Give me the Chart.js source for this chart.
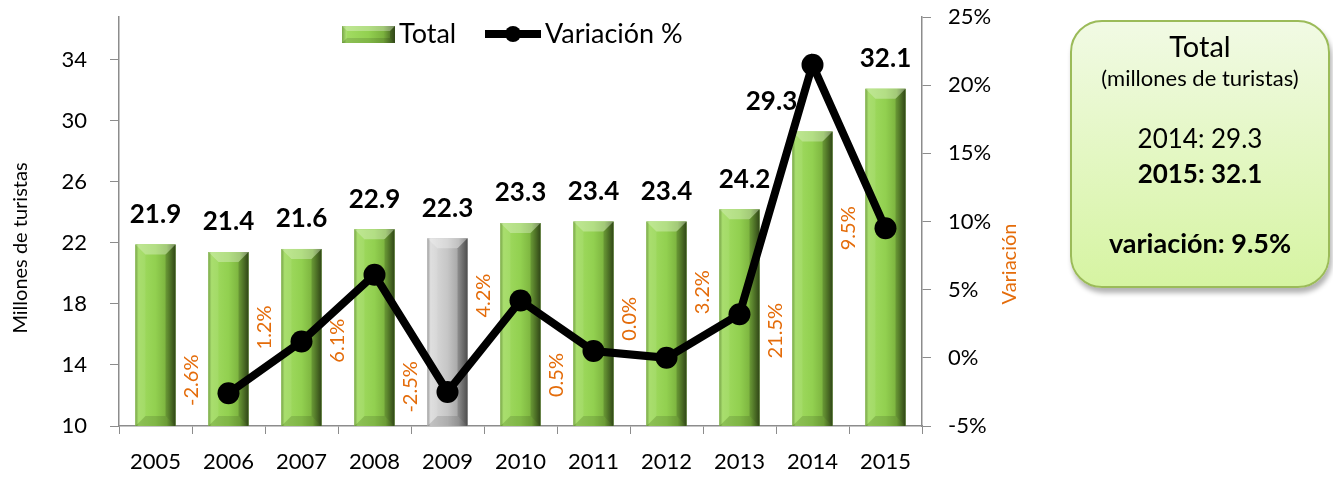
<!DOCTYPE html>
<html>
<head>
<meta charset="utf-8">
<script src="https://cdn.jsdelivr.net/npm/chart.js@4.4.1/dist/chart.umd.min.js"></script>
<style>
body { margin: 0; background: #fff; font-family: Lato, sans-serif; }
#wrap { position: relative; width: 1333px; height: 481px; }
#box {
    position: absolute; left: 1070px; top: 20px; width: 256px; height: 264px;
    border: 2px solid #9BBB59; border-radius: 32px;
    background: linear-gradient(#F1FAE4, #D6F4A2);
    box-shadow: 2px 5px 5px rgba(0,0,0,0.3);
    color: #000; text-align: center;
}
#box div { position: absolute; left: 0; width: 100%; line-height: 32px; white-space: nowrap; }
</style>
</head>
<body>
<div id="wrap">
    <canvas id="chart" width="1333" height="481"></canvas>
    <div id="box">
        <div style="top:8px;font-size:29px;">Total</div>
        <div style="top:40px;font-size:22px;">(millones de turistas)</div>
        <div style="top:100px;font-size:26px;">2014: 29.3</div>
        <div style="top:135px;font-size:26px;font-weight:bold;">2015: 32.1</div>
        <div style="top:205px;font-size:27px;font-weight:bold;">variación: 9.5%</div>
    </div>
</div>
<script>
var years = ['2005', '2006', '2007', '2008', '2009', '2010', '2011', '2012', '2013', '2014', '2015'];
var totals = [21.9, 21.4, 21.6, 22.9, 22.3, 23.3, 23.4, 23.4, 24.2, 29.3, 32.1];
var variation = [null, -2.6, 1.2, 6.1, -2.5, 4.2, 0.5, 0.0, 3.2, 21.5, 9.5];
var leftTicks = [10, 14, 18, 22, 26, 30, 34];
var rightTicks = [-5, 0, 5, 10, 15, 20, 25];
var greyYear = '2009';

var ORANGE = '#E46C0A';
var FONT = 'Lato, sans-serif';
var green = { face: '#92D050', light: '#A2DC62', shade: '#7BB23E', dark: '#3B561C', edge: '#6E9E3A' };
var grey = { face: '#C6C6C6', light: '#DDDDDD', shade: '#A6A6A6', dark: '#5E5E5E', edge: '#969696' };

// hand-placed label nudges (pixels), like the original
var barLabelDx = [0, 0, 0, 0, 0, 0, 0, 0, 5, -41, 0];
var pctLabelDy = [0, -13, -14, 66, -5, -5, 24, -39, -22, 266, 0];

function drawBevel(ctx, L, T, R, B, pal, b) {
    var g = ctx.createLinearGradient(L, 0, R, 0);
    g.addColorStop(0, pal.edge);
    g.addColorStop(0.08, pal.light);
    g.addColorStop(0.5, pal.face);
    g.addColorStop(0.78, pal.shade);
    g.addColorStop(1, pal.dark);
    ctx.fillStyle = g;
    ctx.fillRect(L, T, R - L, B - T);
    if (B - T < 2 * b) return;
    // top bevel
    ctx.fillStyle = 'rgba(255,255,255,0.3)';
    ctx.beginPath();
    ctx.moveTo(L, T); ctx.lineTo(R, T); ctx.lineTo(R - b, T + b); ctx.lineTo(L + b, T + b);
    ctx.closePath(); ctx.fill();
    // right bevel
    ctx.fillStyle = 'rgba(0,0,0,0.18)';
    ctx.beginPath();
    ctx.moveTo(R, T); ctx.lineTo(R, B); ctx.lineTo(R - b, B - b); ctx.lineTo(R - b, T + b);
    ctx.closePath(); ctx.fill();
    // bottom bevel
    ctx.fillStyle = 'rgba(0,0,0,0.12)';
    ctx.beginPath();
    ctx.moveTo(L, B); ctx.lineTo(R, B); ctx.lineTo(R - b, B - b); ctx.lineTo(L + b, B - b);
    ctx.closePath(); ctx.fill();
    // left bevel
    ctx.fillStyle = 'rgba(255,255,255,0.08)';
    ctx.beginPath();
    ctx.moveTo(L, T); ctx.lineTo(L + b, T + b); ctx.lineTo(L + b, B - b); ctx.lineTo(L, B);
    ctx.closePath(); ctx.fill();
}

var decor = {
    id: 'decor',
    afterDatasetDraw: function(chart, args) {
        if (args.index !== 0) return;
        var ctx = chart.ctx;
        var bottom = chart.chartArea.bottom;
        ctx.save();
        args.meta.data.forEach(function(el, i) {
            var pal = years[i] === greyYear ? grey : green;
            drawBevel(ctx, el.x - el.width / 2, el.y, el.x + el.width / 2, Math.min(el.base, bottom), pal, 10);
        });
        ctx.fillStyle = '#000';
        ctx.font = 'bold 26px ' + FONT;
        ctx.textAlign = 'center';
        ctx.textBaseline = 'middle';
        args.meta.data.forEach(function(el, i) {
            ctx.fillText(totals[i].toFixed(1), el.x + barLabelDx[i], el.y - 30);
        });
        ctx.restore();
    },
    afterDatasetsDraw: function(chart) {
        var ctx = chart.ctx;
        var area = chart.chartArea;
        var half = (area.right - area.left) / years.length / 2;
        var meta = chart.getDatasetMeta(1);
        ctx.save();
        ctx.fillStyle = ORANGE;
        ctx.font = '20px ' + FONT;
        ctx.textAlign = 'center';
        ctx.textBaseline = 'middle';
        meta.data.forEach(function(pt, i) {
            if (variation[i] === null) return;
            ctx.save();
            ctx.translate(pt.x - half, pt.y + pctLabelDy[i]);
            ctx.rotate(-Math.PI / 2);
            ctx.fillText(variation[i].toFixed(1) + '%', 0, 0);
            ctx.restore();
        });
        ctx.restore();
    },
    afterDraw: function(chart) {
        var ctx = chart.ctx;
        ctx.save();
        // legend
        drawBevel(ctx, 342, 26, 395, 43, green, 5);
        ctx.fillStyle = '#000';
        ctx.font = '27px ' + FONT;
        ctx.textBaseline = 'middle';
        ctx.textAlign = 'left';
        ctx.fillText('Total', 399, 34);
        ctx.strokeStyle = '#000';
        ctx.lineWidth = 8;
        ctx.beginPath(); ctx.moveTo(485, 34); ctx.lineTo(541, 34); ctx.stroke();
        ctx.beginPath(); ctx.arc(513, 34, 8, 0, Math.PI * 2); ctx.fill();
        ctx.fillText('Variación %', 545, 34);
        // axis titles
        ctx.textAlign = 'center';
        ctx.font = '20px ' + FONT;
        ctx.save();
        ctx.translate(21, 248);
        ctx.rotate(-Math.PI / 2);
        ctx.fillText('Millones de turistas', 0, 0);
        ctx.restore();
        ctx.fillStyle = ORANGE;
        ctx.translate(1010, 264);
        ctx.rotate(-Math.PI / 2);
        ctx.fillText('Variación', 0, 0);
        ctx.restore();
    }
};

var axisGrey = '#8C8C8C';

function noPad(s) {
    s.paddingTop = 0;
    s.paddingBottom = 0;
    s.paddingLeft = 0;
    s.paddingRight = 0;
}

new Chart(document.getElementById('chart'), {
    data: {
        labels: years,
        datasets: [{
            type: 'bar',
            label: 'Total',
            data: totals,
            yAxisID: 'y',
            order: 1,
            backgroundColor: years.map(function(y) { return y === greyYear ? grey.face : green.face; }),
            borderWidth: 0,
            categoryPercentage: 1,
            barPercentage: 0.55
        }, {
            type: 'line',
            label: 'Variación %',
            data: variation,
            yAxisID: 'y1',
            order: 0,
            borderColor: '#000',
            backgroundColor: '#000',
            borderWidth: 8,
            pointRadius: 11,
            pointBackgroundColor: '#000',
            pointBorderWidth: 0,
            tension: 0
        }]
    },
    options: {
        responsive: false,
        animation: false,
        layout: { padding: { top: 17, right: 311, left: 0, bottom: 0 } },
        plugins: {
            legend: { display: false },
            tooltip: { enabled: false }
        },
        scales: {
            x: {
                offset: true,
                grid: { offset: true, drawOnChartArea: false, tickLength: 8, color: axisGrey },
                border: { color: axisGrey, width: 1.5 },
                ticks: { color: '#000', font: { family: FONT, size: 22 }, padding: 15, maxRotation: 0 },
                afterFit: function(s) { s.height = 55; noPad(s); }
            },
            y: {
                position: 'left',
                min: 10,
                max: 36.8,
                grid: { drawOnChartArea: false, tickLength: 9, color: axisGrey },
                border: { color: axisGrey, width: 1.5 },
                ticks: { color: '#000', font: { family: FONT, size: 22 }, padding: 23 },
                afterBuildTicks: function(s) { s.ticks = leftTicks.map(function(v) { return { value: v }; }); },
                afterFit: function(s) { s.width = 119; noPad(s); }
            },
            y1: {
                position: 'right',
                min: -5,
                max: 25,
                grid: { drawOnChartArea: false, tickLength: 9, color: axisGrey },
                border: { color: axisGrey, width: 1.5 },
                ticks: {
                    color: '#000', font: { family: FONT, size: 22 }, padding: 17,
                    callback: function(v) { return v + '%'; }
                },
                afterBuildTicks: function(s) { s.ticks = rightTicks.map(function(v) { return { value: v }; }); },
                afterFit: function(s) { s.width = 100; noPad(s); }
            }
        }
    },
    plugins: [decor]
});
</script>
</body>
</html>
